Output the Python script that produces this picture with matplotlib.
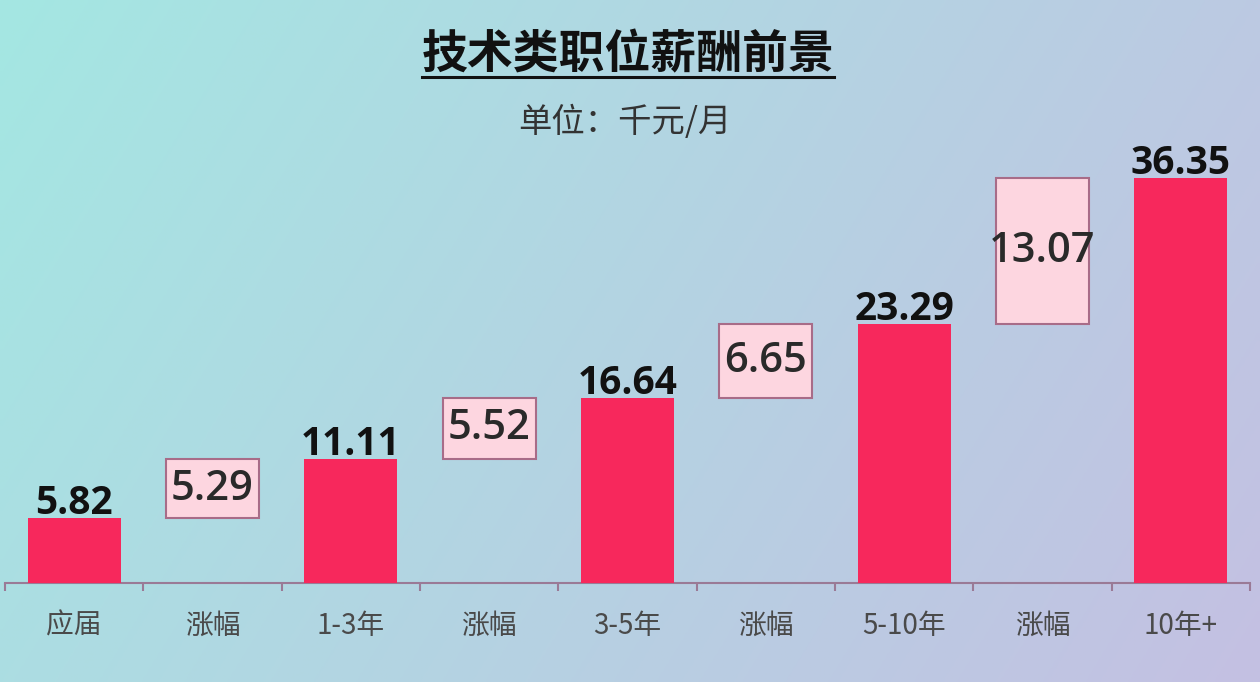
import matplotlib
matplotlib.use('Agg')
import matplotlib.pyplot as plt
import numpy as np
from matplotlib.lines import Line2D

plt.rcParams['font.family'] = ['Noto Sans CJK SC', 'DejaVu Sans']

categories = ['应届', '涨幅', '1-3年', '涨幅', '3-5年', '涨幅', '5-10年', '涨幅', '10年+']
salaries = [5.82, 11.11, 16.64, 23.29, 36.35]
increases = [5.29, 5.52, 6.65, 13.07]

fig = plt.figure(figsize=(12.6, 6.82), dpi=100)

# background gradient
bg = fig.add_axes([0, 0, 1, 1], zorder=-10)
gx = np.linspace(0, 1, 256)
gy = np.linspace(0, 1, 256)
X, Y = np.meshgrid(gx, gy)
t = np.clip(0.75 * X + 0.25 * Y, 0, 1)
c0 = np.array([164, 231, 226]) / 255
c1 = np.array([196, 192, 226]) / 255
img = c0[None, None, :] * (1 - t[..., None]) + c1[None, None, :] * t[..., None]
bg.imshow(img, aspect='auto', extent=[0, 1, 0, 1], origin='upper')
bg.axis('off')

ax = fig.add_axes([5 / 1260, 1 - 583 / 682, 1245 / 1260, 483 / 682])
ax.set_facecolor('none')
ymax = 483 / (405 / 36.35)
ax.set_xlim(-0.5, len(categories) - 0.5)
ax.set_ylim(0, ymax)

bar_color = '#F7285C'
w = 0.67
bar_x = np.arange(0, len(categories), 2)
box_x = np.arange(1, len(categories), 2)

ax.bar(bar_x, salaries, width=w, color=bar_color, zorder=3)
for x, v in zip(bar_x, salaries):
    ax.text(x, v - 0.45, f'{v:.2f}', ha='center', va='bottom', fontsize=28,
            fontweight='bold', color='#111111', family=['Open Sans', 'DejaVu Sans'], zorder=5)

prev = salaries[:-1]
ax.bar(box_x, increases, bottom=prev, width=w, color='#FDD6E0',
       edgecolor='#A86C88', linewidth=1.5, zorder=3)
for x, b, v in zip(box_x, prev, increases):
    ax.text(x, b + v / 2, f'{v:.2f}', ha='center', va='center', fontsize=30,
            fontweight='semibold', color='#2a2a2a', family=['Open Sans', 'DejaVu Sans'], zorder=5)

for s in ['top', 'right', 'left']:
    ax.spines[s].set_visible(False)
ax.spines['bottom'].set_color('#9a7a96')
ax.spines['bottom'].set_linewidth(1.5)
ax.set_yticks([])
ax.set_xticks(np.arange(len(categories)))
ax.set_xticklabels(categories, fontsize=20, color='#4a4a4a')
ax.tick_params(axis='x', length=0, pad=20)
ax.set_xticks(np.arange(-0.5, len(categories)), minor=True)
ax.tick_params(axis='x', which='minor', length=6, width=1.5, color='#9a7a96')

title = fig.text(628 / 1260, 1 - 55 / 682, '技术类职位薪酬前景', ha='center', va='center',
                 fontsize=33, fontweight='bold', color='#111111')
fig.text(625 / 1260, 1 - 122 / 682, '单位：千元/月', ha='center', va='center',
         fontsize=24, color='#333333')

fig.canvas.draw()
bb = title.get_window_extent()
W, H = fig.get_size_inches() * fig.dpi
uy = (bb.y0 + 1) / H
fig.add_artist(Line2D([bb.x0 / W, bb.x1 / W], [uy, uy], color='#111111', lw=2.2))

fig.savefig('out.png', dpi=100)
